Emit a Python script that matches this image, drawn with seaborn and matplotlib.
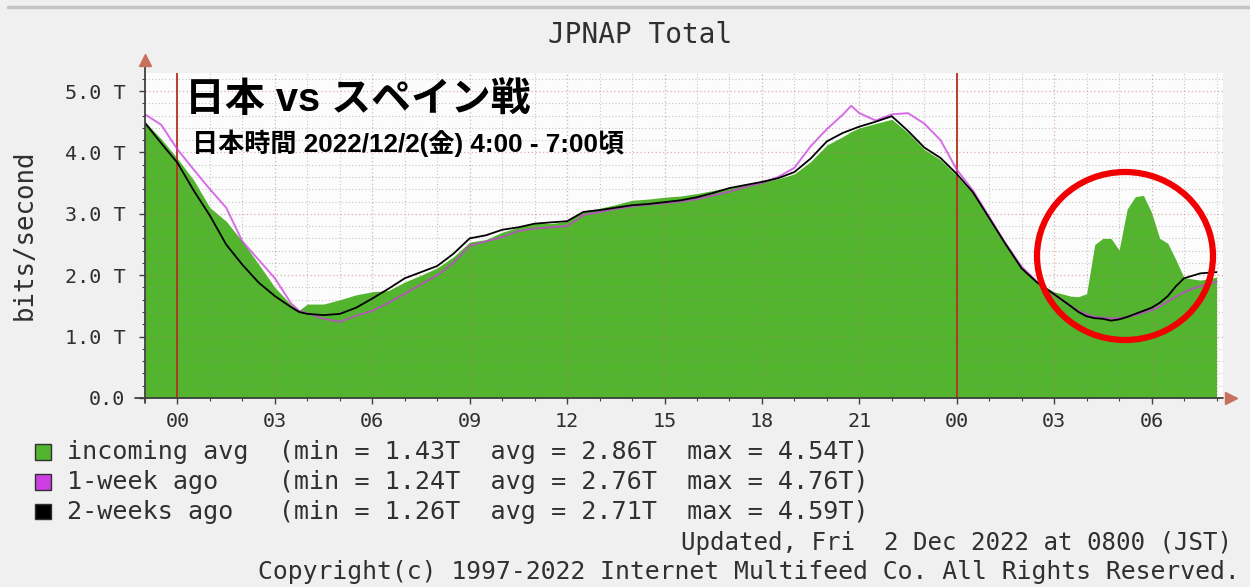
import matplotlib
matplotlib.use("Agg")
import matplotlib.pyplot as plt
from matplotlib.patches import Ellipse, Rectangle
from matplotlib.lines import Line2D
from matplotlib.ticker import MultipleLocator, FixedLocator
import pandas as pd
import seaborn as sns

# hours since midnight of Dec 1 (JST); the window runs 23:00 -> 08:00 next day
hours = [-1, -0.5, 0, 0.5, 1, 1.5, 2, 2.5, 3, 3.5, 3.75, 4, 4.5, 5, 5.5, 6, 6.5,
         7, 7.5, 8, 8.5, 9, 9.5, 10, 10.5, 11, 11.5, 12, 12.5, 13, 13.5, 14,
         14.5, 15, 15.5, 16, 16.5, 17, 17.5, 18, 18.5, 19, 19.5, 20, 20.5, 20.75,
         21, 21.5, 22, 22.5, 23, 23.5, 24, 24.5, 25, 25.5, 26, 26.5, 27, 27.5,
         27.75, 28, 28.25, 28.5, 28.75, 29, 29.25, 29.5, 29.75, 30, 30.25, 30.5,
         30.75, 31, 31.25, 31.5, 31.75, 32]

# traffic in Tbit/s
incoming = [4.50, 4.22, 3.90, 3.55, 3.10, 2.88, 2.55, 2.18, 1.80, 1.52, 1.43, 1.53,
            1.53, 1.60, 1.68, 1.73, 1.75, 1.89, 2.00, 2.12, 2.30, 2.54, 2.58, 2.70,
            2.78, 2.85, 2.84, 2.88, 3.05, 3.09, 3.15, 3.22, 3.24, 3.27, 3.29, 3.33,
            3.38, 3.43, 3.47, 3.52, 3.57, 3.65, 3.85, 4.12, 4.26, 4.34, 4.40, 4.47,
            4.54, 4.32, 4.05, 3.88, 3.62, 3.33, 2.90, 2.50, 2.12, 1.88, 1.73, 1.66,
            1.65, 1.70, 2.50, 2.60, 2.60, 2.41, 3.08, 3.28, 3.30, 3.02, 2.60, 2.52,
            2.25, 1.96, 1.94, 1.92, 1.94, 1.97]

week1 = [4.62, 4.45, 4.05, 3.72, 3.40, 3.10, 2.55, 2.25, 1.95, 1.54, 1.42, 1.38,
         1.29, 1.24, 1.34, 1.42, 1.55, 1.70, 1.85, 2.00, 2.20, 2.48, 2.55, 2.62,
         2.72, 2.76, 2.78, 2.80, 2.98, 3.03, 3.08, 3.12, 3.15, 3.17, 3.20, 3.24,
         3.30, 3.36, 3.44, 3.50, 3.60, 3.75, 4.10, 4.38, 4.62, 4.76, 4.64, 4.52,
         4.62, 4.64, 4.47, 4.20, 3.72, 3.38, 2.95, 2.52, 2.14, 1.88, 1.68, 1.50,
         1.42, 1.36, 1.32, 1.31, 1.30, 1.30, 1.32, 1.35, 1.39, 1.43, 1.49, 1.57,
         1.65, 1.72, 1.78, 1.82, 1.86, 1.89]

week2 = [4.48, 4.15, 3.83, 3.38, 2.97, 2.50, 2.17, 1.88, 1.66, 1.48, 1.40, 1.37,
         1.35, 1.37, 1.47, 1.62, 1.78, 1.95, 2.05, 2.15, 2.35, 2.60, 2.65, 2.74,
         2.78, 2.84, 2.86, 2.88, 3.03, 3.06, 3.10, 3.14, 3.16, 3.19, 3.22, 3.27,
         3.34, 3.42, 3.47, 3.52, 3.58, 3.68, 3.90, 4.18, 4.32, 4.37, 4.42, 4.50,
         4.59, 4.35, 4.08, 3.91, 3.65, 3.35, 2.93, 2.51, 2.11, 1.87, 1.69, 1.50,
         1.40, 1.33, 1.30, 1.29, 1.26, 1.28, 1.32, 1.37, 1.42, 1.47, 1.55, 1.66,
         1.82, 1.95, 1.99, 2.03, 2.04, 2.05]

series_names = ["incoming avg", "1-week ago", "2-weeks ago"]
series_min = ["1.43", "1.24", "1.26"]
series_avg = ["2.86", "2.76", "2.71"]
series_max = ["4.54", "4.76", "4.59"]

ytick_values = [0, 1, 2, 3, 4, 5]
ytick_labels = ["0.0", "1.0 T", "2.0 T", "3.0 T", "4.0 T", "5.0 T"]
xtick_hours = [0, 3, 6, 9, 12, 15, 18, 21, 24, 27, 30]
xtick_labels = ["00", "03", "06", "09", "12", "15", "18", "21", "00", "03", "06"]
midnights = [0, 24]

GREEN = "#52b52d"
MAGENTA = "#cc3ee0"
BLACK = "#000000"
AXIS = "#404040"
ARROW = "#c8705e"

sns.set_theme(style="white")
MONO = "DejaVu Sans Mono"
plt.rcParams["font.family"] = [MONO]
JP = ["Liberation Sans", "Noto Sans CJK JP", "DejaVu Sans"]

fig = plt.figure(figsize=(12.5, 5.87), dpi=100, facecolor="#f0f0f0")
ax = fig.add_axes([0.116, 0.322, 0.8624, 0.5543])
ax.set_facecolor("#fcfcfc")

df = pd.DataFrame({"hour": hours, "incoming": incoming,
                   "week1": week1, "week2": week2})

ax.fill_between(df["hour"], 0, df["incoming"], color=GREEN, lw=0, zorder=2)
for h in midnights:
    ax.axvline(h, color="#b3301e", lw=1.3, zorder=3)
sns.lineplot(data=df, x="hour", y="week1", color=MAGENTA, lw=1.4, alpha=0.75,
             estimator=None, ax=ax, zorder=4)
sns.lineplot(data=df, x="hour", y="week2", color=BLACK, lw=1.3,
             estimator=None, ax=ax, zorder=5)

ax.set_xlim(-1, 32.2)
ax.set_ylim(0, 5.3)
ax.set_xlabel("")
ax.set_ylabel("")

ax.xaxis.set_major_locator(FixedLocator(xtick_hours))
ax.set_xticklabels(xtick_labels)
ax.xaxis.set_minor_locator(MultipleLocator(1))
ax.yaxis.set_major_locator(FixedLocator(ytick_values))
ax.set_yticklabels(ytick_labels)
ax.yaxis.set_minor_locator(MultipleLocator(0.2))

ax.set_axisbelow(False)
ax.grid(which="major", color="#c07070", alpha=0.55, lw=0.9, ls=(0, (1, 2)))
ax.grid(which="minor", color="#909090", alpha=0.5, lw=0.8, ls=(0, (1, 2)))

ax.tick_params(axis="both", which="both", direction="out", color=AXIS,
               labelcolor="#303030", labelsize=14.5, left=True, bottom=True)
ax.tick_params(axis="both", which="major", length=4, width=1)
ax.tick_params(axis="both", which="minor", length=2, width=0.8)
ax.tick_params(axis="y", pad=10)
ax.tick_params(axis="x", pad=6)

for side in ["top", "right", "left", "bottom"]:
    ax.spines[side].set_visible(False)

# axes with arrow heads
ax.plot([0, 0], [-0.015, 1.035], color=AXIS, lw=1.3, transform=ax.transAxes,
        clip_on=False, zorder=6)
ax.plot([-0.009, 1.0], [0, 0], color=AXIS, lw=1.3, transform=ax.transAxes,
        clip_on=False, zorder=6)
ax.plot([0], [1.04], marker="^", ms=8, color=ARROW, transform=ax.transAxes,
        clip_on=False, zorder=7)
ax.plot([1.007], [0], marker=">", ms=8, color=ARROW, transform=ax.transAxes,
        clip_on=False, zorder=7)

# titles
fig.text(0.512, 0.940, "JPNAP Total", ha="center", va="center", fontsize=20,
         color="#303030", family=MONO)
fig.text(0.0195, 0.600, "bits/second", ha="center", va="center", fontsize=18.5,
         rotation=90, color="#303030", family=MONO)

fig.text(0.148, 0.830, "日本 vs スペイン戦", ha="left", va="center",
         fontsize=28.7, fontweight="bold", color="black", family=JP, zorder=10)
fig.text(0.1536, 0.756, "日本時間 2022/12/2(金) 4:00 - 7:00頃", ha="left",
         va="center", fontsize=18.8, fontweight="bold", color="black", family=JP,
         zorder=10)

# legend rows
colors = [GREEN, MAGENTA, BLACK]
row_y = [0.230, 0.179, 0.128]
for name, lo, av, hi, c, y in zip(series_names, series_min, series_avg,
                                  series_max, colors, row_y):
    fig.add_artist(Rectangle((0.028, y - 0.013), 0.0125, 0.027,
                             transform=fig.transFigure, facecolor=c,
                             edgecolor="#303030", lw=1.0))
    line = f"{name:<12s}  (min = {lo}T  avg = {av}T  max = {hi}T)"
    fig.text(0.0536, y, line, ha="left", va="center", fontsize=18.1,
             color="#303030", family=MONO)

fig.text(0.9856, 0.075, "Updated, Fri  2 Dec 2022 at 0800 (JST)", ha="right",
         va="center", fontsize=17.4, color="#303030", family=MONO)
fig.text(0.992, 0.025,
         "Copyright(c) 1997-2022 Internet Multifeed Co. All Rights Reserved.",
         ha="right", va="center", fontsize=17.85, color="#303030", family=MONO)

# highlight around the early-morning surge
fig.add_artist(Ellipse((1125 / 1250, 1 - 256 / 587), 176 / 1250, 168 / 587,
                       transform=fig.transFigure, fill=False,
                       edgecolor="#f00000", lw=4.5, zorder=10))

# frame line along the top edge
fig.add_artist(Line2D([0.006, 1.0], [1 - 7 / 587, 1 - 7 / 587], color="#c4c4c4",
                      lw=2.5, transform=fig.transFigure))

fig.savefig("out.png", dpi=100, facecolor=fig.get_facecolor())
